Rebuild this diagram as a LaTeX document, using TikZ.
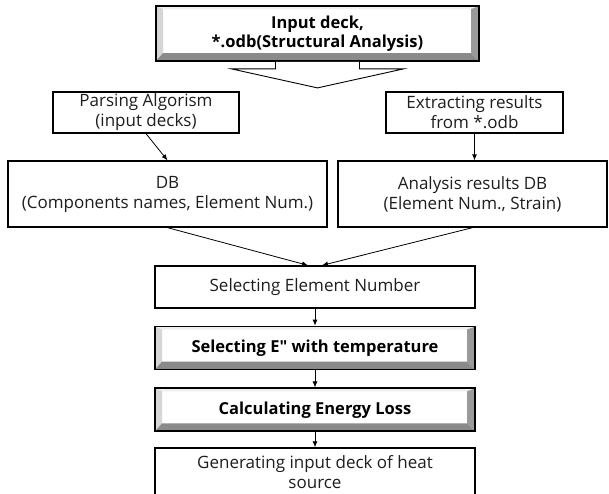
\documentclass[tikz,border=0pt]{standalone}
\usepackage{fontspec}
\setmainfont{Open Sans}
\usetikzlibrary{arrows.meta,positioning,calc}
\definecolor{ink}{HTML}{1E1E1E}
\definecolor{bevtop}{HTML}{EFEFEF}
\definecolor{bevleft}{HTML}{D6D6D6}
\definecolor{bevright}{HTML}{9A9A9A}
\definecolor{bevbot}{HTML}{8A8A8A}
\tikzset{>=Latex,box/.style={draw,line width=1.3pt,fill=white,align=center,inner sep=2pt,text=ink,font=\fontsize{17}{20}\selectfont},bevel/.style={box,line width=1.8pt,text=black,font=\fontsize{16.5}{19}\selectfont\bfseries,path picture={
\coordinate (nw) at (path picture bounding box.north west);
\coordinate (ne) at (path picture bounding box.north east);
\coordinate (sw) at (path picture bounding box.south west);
\coordinate (se) at (path picture bounding box.south east);
\fill[bevtop] (nw) -- (ne) -- ($(ne)+(-8pt,-3pt)$) -- ($(nw)+(7pt,-3pt)$) -- cycle;
\fill[bevleft] (nw) -- ($(nw)+(7pt,-3pt)$) -- ($(sw)+(7pt,8pt)$) -- (sw) -- cycle;
\fill[bevbot] (sw) -- ($(sw)+(7pt,8pt)$) -- ($(se)+(-8pt,8pt)$) -- (se) -- cycle;
\fill[bevright] (ne) -- ($(ne)+(-8pt,-3pt)$) -- ($(se)+(-8pt,8pt)$) -- (se) -- cycle;}},arr/.style={-{Latex[length=6pt,width=5pt]},line width=0.8pt}}

\begin{document}
\begin{tikzpicture}[x=1pt,y=1pt,node distance=17pt]
\useasboundingbox (0,0) rectangle (609,-493);
\node[bevel,minimum width=323pt,minimum height=55pt] (in) at (317.5,-33.5) {Input deck,\\*.odb(Structural Analysis)};
\draw[line width=0.9pt,fill=white] ($(in.south)+(-42,0)$) -- ++(0,-7) -- ++(-44,0) -- ($(in.south)+(0,-26)$) -- ($(in.south)+(86,-7)$) -- ++(-44,0) -- ++(0,7);
\node[box,minimum width=186pt,minimum height=41pt] (pa) at (146,-112.5) {Parsing Algorism\\(input decks)};
\node[box,minimum width=177pt,minimum height=41pt] (ex) at (474.5,-112.5) {Extracting results\\from *.odb};
\node[box,minimum width=319pt,minimum height=66pt] (db) at (167.5,-194) {DB\\(Components names, Element Num.)};
\node[box,minimum width=269pt,minimum height=66pt] (adb) at (472.5,-194) {Analysis results DB\\(Element Num., Strain)};
\node[box,minimum width=320pt,minimum height=42pt] (sel) at (315,-287) {Selecting Element Number};
\node[bevel,minimum width=320pt,minimum height=43pt,below=of sel] (selE) {Selecting E\textquotedbl{} with temperature};
\node[bevel,minimum width=320pt,minimum height=43pt,below=of selE] (loss) {Calculating Energy Loss};
\node[box,minimum width=320pt,minimum height=49pt,below=15pt of loss] (gen) {Generating input deck of heat\\source};
\draw[arr] (pa.south)--(db.north);
\draw[arr] (ex.south)--(ex.south|-adb.north);
\draw[arr] (db.south)--([xshift=-7pt]sel.north);
\draw[arr] (adb.south)--([xshift=7pt]sel.north);
\draw[arr] (sel)--(selE);\draw[arr] (selE)--(loss);\draw[arr] (loss)--(gen);
\end{tikzpicture}
\end{document}
